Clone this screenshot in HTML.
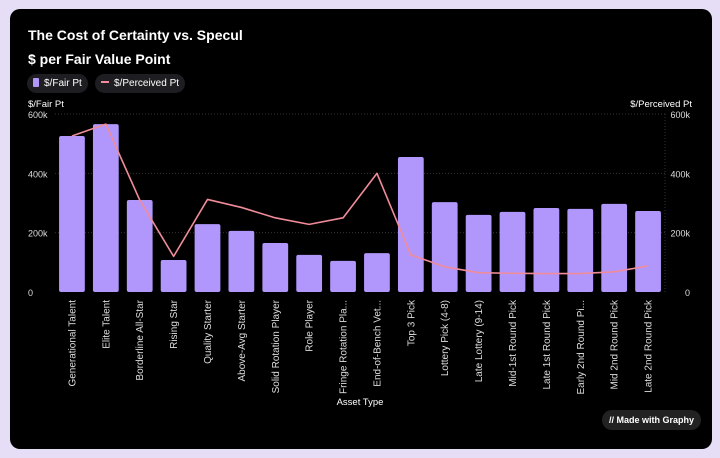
<!DOCTYPE html>
<html><head><meta charset="utf-8"><style>
html,body{margin:0;padding:0;width:720px;height:458px;overflow:hidden;background:#e6ddf7;font-family:"Liberation Sans",sans-serif}
#panel{position:absolute;left:10px;top:9px;width:702px;height:440px;background:#000;border-radius:10px}
.t{position:absolute;color:#fff;font-weight:bold}
.pill{position:absolute;top:74px;height:19px;border-radius:10px;background:#1e1e22;color:#fff;font-size:10px;line-height:19px;padding:0 6px}
</style></head><body>
<div id="panel"></div>
<div class="t" style="left:28px;top:27px;font-size:14px">The Cost of Certainty vs. Specul</div>
<div class="t" style="left:28px;top:51px;font-size:14px">$ per Fair Value Point</div>
<div class="pill" style="left:27px"><span style="display:inline-block;width:6px;height:9px;background:#b197fc;border-radius:1px;margin-right:5px;vertical-align:-1px"></span>$/Fair Pt</div>
<div class="pill" style="left:95px"><span style="display:inline-block;width:8px;height:2px;background:#f08c9a;margin-right:5px;vertical-align:3px"></span>$/Perceived Pt</div>
<svg id="chart" width="720" height="458" style="position:absolute;left:0;top:0"></svg>
<div style="position:absolute;left:602px;top:410px;height:20px;border-radius:10px;background:#222;color:#fff;font-size:9px;font-weight:bold;line-height:20px;padding:0 7px">// Made with Graphy</div>
<script>
const categories=["Generational Talent","Elite Talent","Borderline All-Star","Rising Star","Quality Starter","Above-Avg Starter","Solid Rotation Player","Role Player","Fringe Rotation Pla...","End-of-Bench Vet...","Top 3 Pick","Lottery Pick (4-8)","Late Lottery (9-14)","Mid-1st Round Pick","Late 1st Round Pick","Early 2nd Round Pi...","Mid 2nd Round Pick","Late 2nd Round Pick"];
const fairValues=[526000,566000,310000,108000,229000,206000,165000,125000,105000,131000,455000,303000,260000,270000,283000,280000,297000,273000];
const perceivedValues=[526000,566000,310000,120000,312000,285000,250000,228000,250000,400000,125000,85000,65000,63000,62000,62000,68000,88000];
const yTicks=[0,200000,400000,600000];
const tickLabels=["0","200k","400k","600k"];
const NS="http://www.w3.org/2000/svg";
const svg=document.getElementById('chart');
const x0=55,x1=665,yb=292,yt=114,yMax=600000;
const step=(x1-x0)/categories.length;
const xScale=i=>x0+step*(i+0.5);
const yScale=v=>yb-(v/yMax)*(yb-yt);
function mk(tag,attrs){const e=document.createElementNS(NS,tag);for(const k in attrs)e.setAttribute(k,attrs[k]);svg.appendChild(e);return e;}
yTicks.forEach((v,i)=>{
 if(v>0){const g=mk('line',{x1:x0,x2:x1,y1:yScale(v),y2:yScale(v),stroke:'#333','stroke-dasharray':'1,2'});
 
 }
 const l=mk('text',{x:28,y:yScale(v)+4,fill:'#ddd','font-size':9});l.textContent=tickLabels[i];
 
 
 const r=mk('text',{x:690,y:yScale(v)+4,fill:'#ddd','font-size':9,'text-anchor':'end'});r.textContent=tickLabels[i];
 
 
});
const ra=mk('line',{x1:x1,x2:x1,y1:yt,y2:yb,stroke:'#333','stroke-dasharray':'1,2'});


const lt=mk('text',{x:28,y:107,fill:'#fff','font-size':9.5});lt.textContent='$/Fair Pt';


const rt=mk('text',{x:692,y:107,fill:'#fff','font-size':9.5,'text-anchor':'end'});rt.textContent='$/Perceived Pt';


const bw=step*0.76;
fairValues.forEach((v,i)=>{
 const b=mk('rect',{x:xScale(i)-bw/2,y:yScale(v),width:bw,height:yb-yScale(v),rx:2,fill:'#b197fc'});
 
 
 const t=mk('text',{transform:`translate(${xScale(i)+3.5},300) rotate(-90)`,fill:'#ddd','font-size':10,'text-anchor':'end'});
 t.textContent=categories[i];
 
 
});
const pts=perceivedValues.map((v,i)=>xScale(i)+','+yScale(v)).join(' ');
const pl=mk('polyline',{points:pts,fill:'none',stroke:'#f08c9a','stroke-width':1.6,'stroke-linejoin':'round'});


const xt=mk('text',{x:360,y:405,fill:'#fff','font-size':9.5,'text-anchor':'middle'});xt.textContent='Asset Type';


</script>
</body></html>
